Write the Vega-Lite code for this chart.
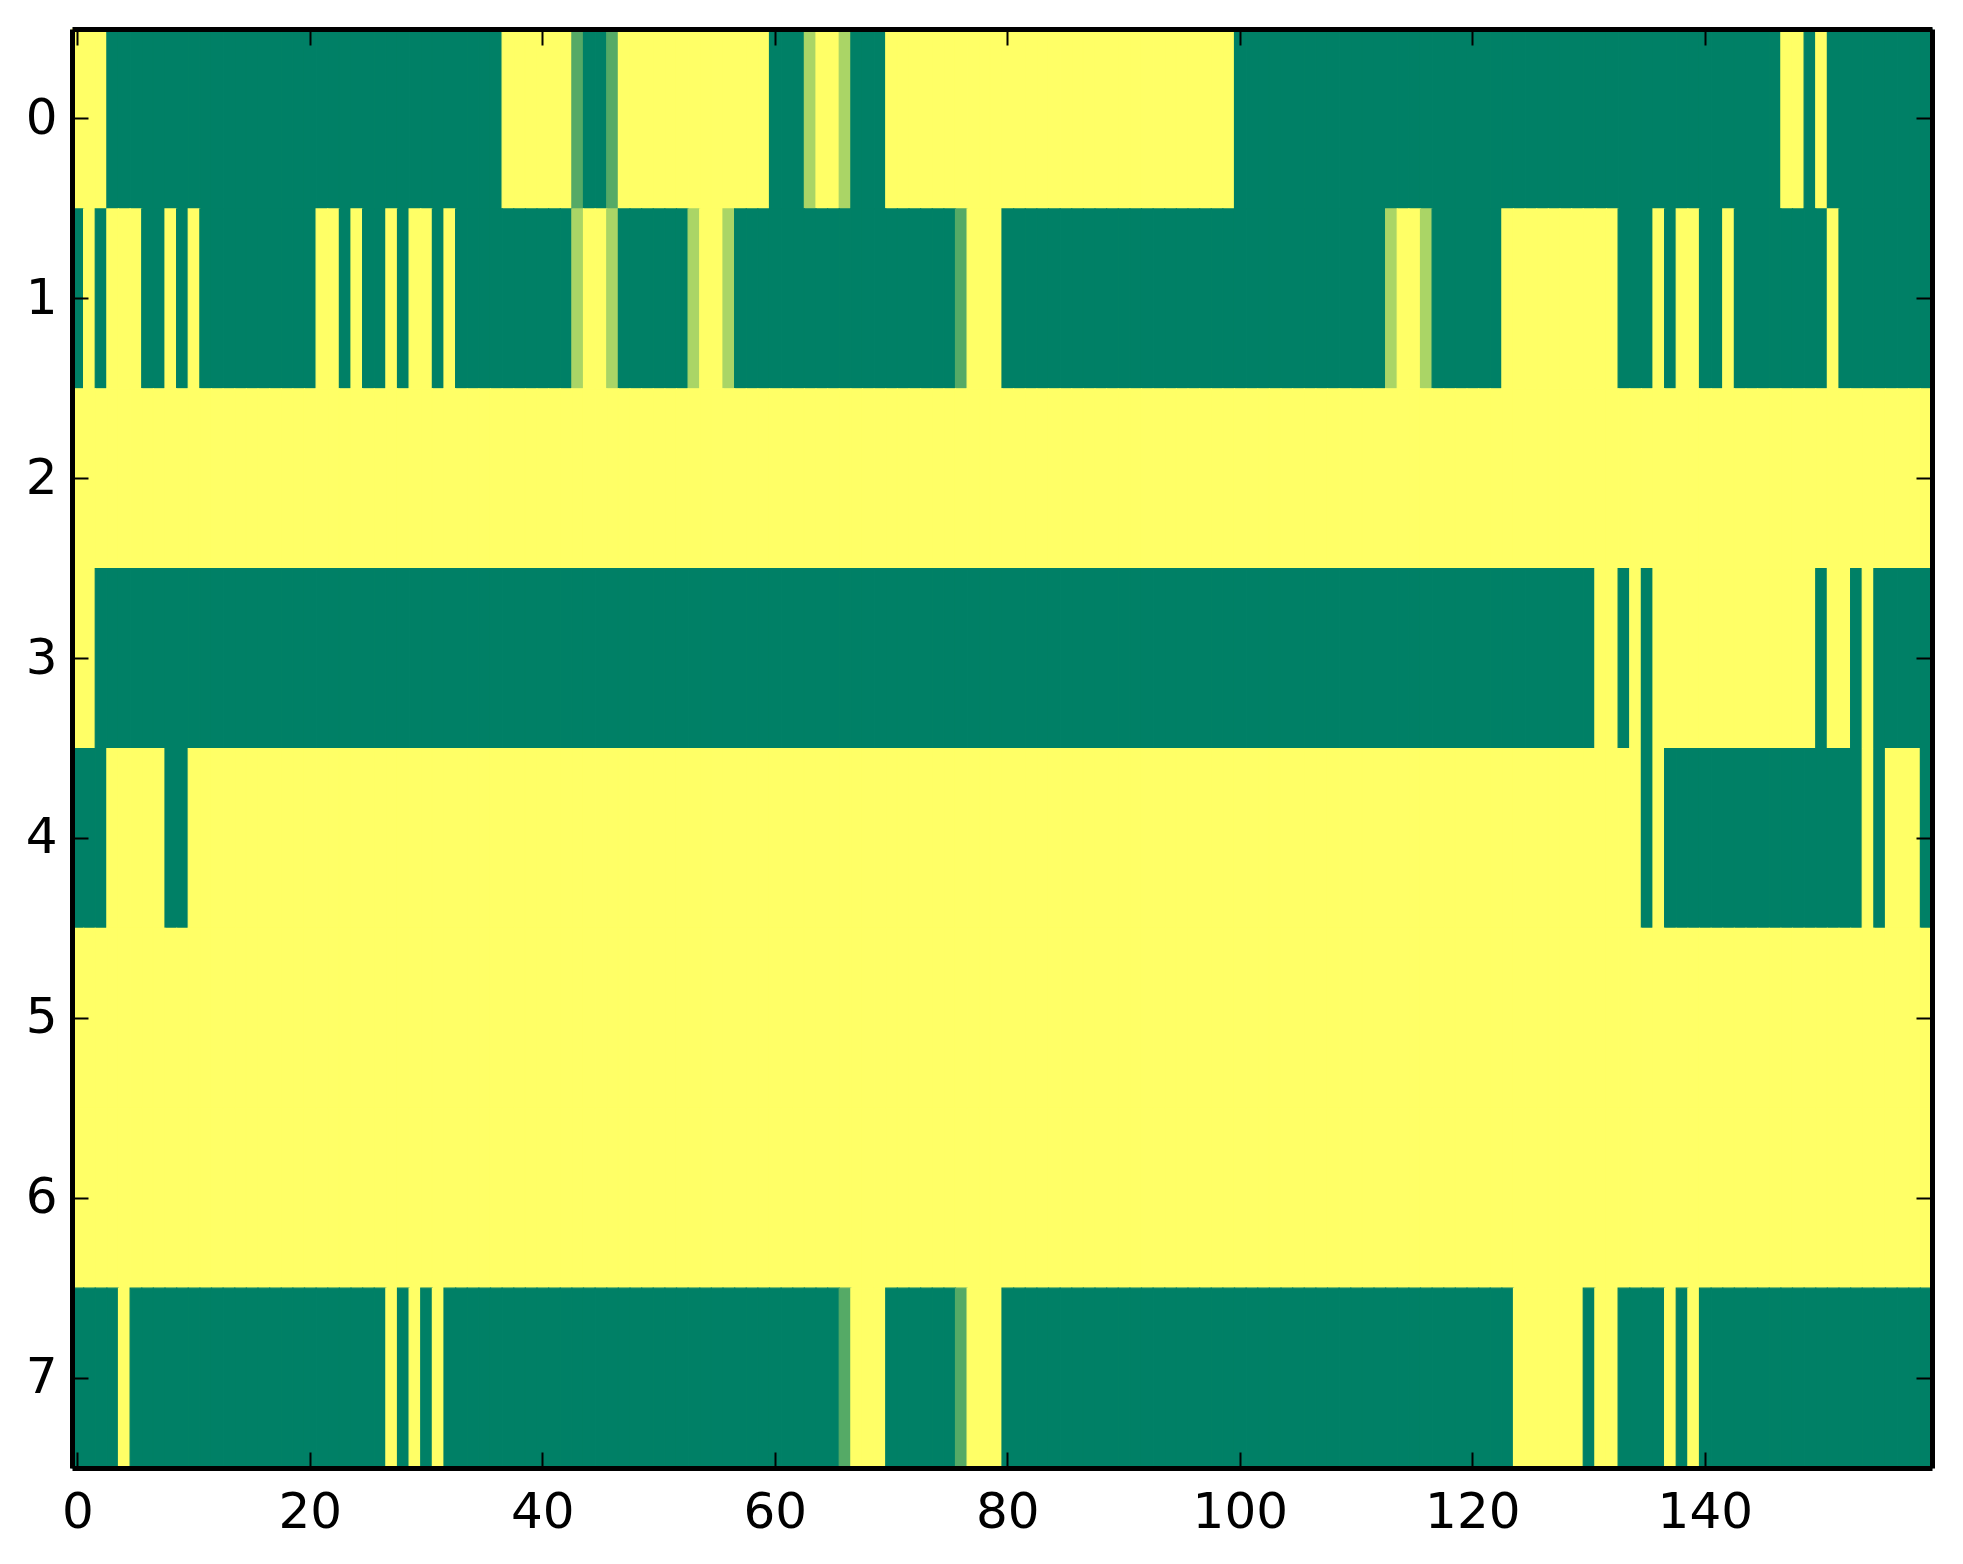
{
  "$schema": "https://vega.github.io/schema/vega-lite/v6.json",
  "width": 1860,
  "height": 1439,
  "autosize": {"type": "none"},
  "padding": {"left": 72, "top": 29, "right": 31, "bottom": 96},
  "background": "white",
  "data": {
    "values": [
      {"r":0,"c":0,"v":1},{"r":0,"c":1,"v":1},{"r":0,"c":2,"v":1},{"r":0,"c":3,"v":0},{"r":0,"c":4,"v":0},{"r":0,"c":5,"v":0},{"r":0,"c":6,"v":0},{"r":0,"c":7,"v":0},{"r":0,"c":8,"v":0},{"r":0,"c":9,"v":0},
      {"r":0,"c":10,"v":0},{"r":0,"c":11,"v":0},{"r":0,"c":12,"v":0},{"r":0,"c":13,"v":0},{"r":0,"c":14,"v":0},{"r":0,"c":15,"v":0},{"r":0,"c":16,"v":0},{"r":0,"c":17,"v":0},{"r":0,"c":18,"v":0},{"r":0,"c":19,"v":0},
      {"r":0,"c":20,"v":0},{"r":0,"c":21,"v":0},{"r":0,"c":22,"v":0},{"r":0,"c":23,"v":0},{"r":0,"c":24,"v":0},{"r":0,"c":25,"v":0},{"r":0,"c":26,"v":0},{"r":0,"c":27,"v":0},{"r":0,"c":28,"v":0},{"r":0,"c":29,"v":0},
      {"r":0,"c":30,"v":0},{"r":0,"c":31,"v":0},{"r":0,"c":32,"v":0},{"r":0,"c":33,"v":0},{"r":0,"c":34,"v":0},{"r":0,"c":35,"v":0},{"r":0,"c":36,"v":0},{"r":0,"c":37,"v":1},{"r":0,"c":38,"v":1},{"r":0,"c":39,"v":1},
      {"r":0,"c":40,"v":1},{"r":0,"c":41,"v":1},{"r":0,"c":42,"v":1},{"r":0,"c":43,"v":0.333},{"r":0,"c":44,"v":0},{"r":0,"c":45,"v":0},{"r":0,"c":46,"v":0.333},{"r":0,"c":47,"v":1},{"r":0,"c":48,"v":1},{"r":0,"c":49,"v":1},
      {"r":0,"c":50,"v":1},{"r":0,"c":51,"v":1},{"r":0,"c":52,"v":1},{"r":0,"c":53,"v":1},{"r":0,"c":54,"v":1},{"r":0,"c":55,"v":1},{"r":0,"c":56,"v":1},{"r":0,"c":57,"v":1},{"r":0,"c":58,"v":1},{"r":0,"c":59,"v":1},
      {"r":0,"c":60,"v":0},{"r":0,"c":61,"v":0},{"r":0,"c":62,"v":0},{"r":0,"c":63,"v":0.667},{"r":0,"c":64,"v":1},{"r":0,"c":65,"v":1},{"r":0,"c":66,"v":0.667},{"r":0,"c":67,"v":0},{"r":0,"c":68,"v":0},{"r":0,"c":69,"v":0},
      {"r":0,"c":70,"v":1},{"r":0,"c":71,"v":1},{"r":0,"c":72,"v":1},{"r":0,"c":73,"v":1},{"r":0,"c":74,"v":1},{"r":0,"c":75,"v":1},{"r":0,"c":76,"v":1},{"r":0,"c":77,"v":1},{"r":0,"c":78,"v":1},{"r":0,"c":79,"v":1},
      {"r":0,"c":80,"v":1},{"r":0,"c":81,"v":1},{"r":0,"c":82,"v":1},{"r":0,"c":83,"v":1},{"r":0,"c":84,"v":1},{"r":0,"c":85,"v":1},{"r":0,"c":86,"v":1},{"r":0,"c":87,"v":1},{"r":0,"c":88,"v":1},{"r":0,"c":89,"v":1},
      {"r":0,"c":90,"v":1},{"r":0,"c":91,"v":1},{"r":0,"c":92,"v":1},{"r":0,"c":93,"v":1},{"r":0,"c":94,"v":1},{"r":0,"c":95,"v":1},{"r":0,"c":96,"v":1},{"r":0,"c":97,"v":1},{"r":0,"c":98,"v":1},{"r":0,"c":99,"v":1},
      {"r":0,"c":100,"v":0},{"r":0,"c":101,"v":0},{"r":0,"c":102,"v":0},{"r":0,"c":103,"v":0},{"r":0,"c":104,"v":0},{"r":0,"c":105,"v":0},{"r":0,"c":106,"v":0},{"r":0,"c":107,"v":0},{"r":0,"c":108,"v":0},{"r":0,"c":109,"v":0},
      {"r":0,"c":110,"v":0},{"r":0,"c":111,"v":0},{"r":0,"c":112,"v":0},{"r":0,"c":113,"v":0},{"r":0,"c":114,"v":0},{"r":0,"c":115,"v":0},{"r":0,"c":116,"v":0},{"r":0,"c":117,"v":0},{"r":0,"c":118,"v":0},{"r":0,"c":119,"v":0},
      {"r":0,"c":120,"v":0},{"r":0,"c":121,"v":0},{"r":0,"c":122,"v":0},{"r":0,"c":123,"v":0},{"r":0,"c":124,"v":0},{"r":0,"c":125,"v":0},{"r":0,"c":126,"v":0},{"r":0,"c":127,"v":0},{"r":0,"c":128,"v":0},{"r":0,"c":129,"v":0},
      {"r":0,"c":130,"v":0},{"r":0,"c":131,"v":0},{"r":0,"c":132,"v":0},{"r":0,"c":133,"v":0},{"r":0,"c":134,"v":0},{"r":0,"c":135,"v":0},{"r":0,"c":136,"v":0},{"r":0,"c":137,"v":0},{"r":0,"c":138,"v":0},{"r":0,"c":139,"v":0},
      {"r":0,"c":140,"v":0},{"r":0,"c":141,"v":0},{"r":0,"c":142,"v":0},{"r":0,"c":143,"v":0},{"r":0,"c":144,"v":0},{"r":0,"c":145,"v":0},{"r":0,"c":146,"v":0},{"r":0,"c":147,"v":1},{"r":0,"c":148,"v":1},{"r":0,"c":149,"v":0},
      {"r":0,"c":150,"v":1},{"r":0,"c":151,"v":0},{"r":0,"c":152,"v":0},{"r":0,"c":153,"v":0},{"r":0,"c":154,"v":0},{"r":0,"c":155,"v":0},{"r":0,"c":156,"v":0},{"r":0,"c":157,"v":0},{"r":0,"c":158,"v":0},{"r":0,"c":159,"v":0},

      {"r":1,"c":0,"v":0},{"r":1,"c":1,"v":1},{"r":1,"c":2,"v":0},{"r":1,"c":3,"v":1},{"r":1,"c":4,"v":1},{"r":1,"c":5,"v":1},{"r":1,"c":6,"v":0},{"r":1,"c":7,"v":0},{"r":1,"c":8,"v":1},{"r":1,"c":9,"v":0},
      {"r":1,"c":10,"v":1},{"r":1,"c":11,"v":0},{"r":1,"c":12,"v":0},{"r":1,"c":13,"v":0},{"r":1,"c":14,"v":0},{"r":1,"c":15,"v":0},{"r":1,"c":16,"v":0},{"r":1,"c":17,"v":0},{"r":1,"c":18,"v":0},{"r":1,"c":19,"v":0},
      {"r":1,"c":20,"v":0},{"r":1,"c":21,"v":1},{"r":1,"c":22,"v":1},{"r":1,"c":23,"v":0},{"r":1,"c":24,"v":1},{"r":1,"c":25,"v":0},{"r":1,"c":26,"v":0},{"r":1,"c":27,"v":1},{"r":1,"c":28,"v":0},{"r":1,"c":29,"v":1},
      {"r":1,"c":30,"v":1},{"r":1,"c":31,"v":0},{"r":1,"c":32,"v":1},{"r":1,"c":33,"v":0},{"r":1,"c":34,"v":0},{"r":1,"c":35,"v":0},{"r":1,"c":36,"v":0},{"r":1,"c":37,"v":0},{"r":1,"c":38,"v":0},{"r":1,"c":39,"v":0},
      {"r":1,"c":40,"v":0},{"r":1,"c":41,"v":0},{"r":1,"c":42,"v":0},{"r":1,"c":43,"v":0.667},{"r":1,"c":44,"v":1},{"r":1,"c":45,"v":1},{"r":1,"c":46,"v":0.667},{"r":1,"c":47,"v":0},{"r":1,"c":48,"v":0},{"r":1,"c":49,"v":0},
      {"r":1,"c":50,"v":0},{"r":1,"c":51,"v":0},{"r":1,"c":52,"v":0},{"r":1,"c":53,"v":0.667},{"r":1,"c":54,"v":1},{"r":1,"c":55,"v":1},{"r":1,"c":56,"v":0.667},{"r":1,"c":57,"v":0},{"r":1,"c":58,"v":0},{"r":1,"c":59,"v":0},
      {"r":1,"c":60,"v":0},{"r":1,"c":61,"v":0},{"r":1,"c":62,"v":0},{"r":1,"c":63,"v":0},{"r":1,"c":64,"v":0},{"r":1,"c":65,"v":0},{"r":1,"c":66,"v":0},{"r":1,"c":67,"v":0},{"r":1,"c":68,"v":0},{"r":1,"c":69,"v":0},
      {"r":1,"c":70,"v":0},{"r":1,"c":71,"v":0},{"r":1,"c":72,"v":0},{"r":1,"c":73,"v":0},{"r":1,"c":74,"v":0},{"r":1,"c":75,"v":0},{"r":1,"c":76,"v":0.333},{"r":1,"c":77,"v":1},{"r":1,"c":78,"v":1},{"r":1,"c":79,"v":1},
      {"r":1,"c":80,"v":0},{"r":1,"c":81,"v":0},{"r":1,"c":82,"v":0},{"r":1,"c":83,"v":0},{"r":1,"c":84,"v":0},{"r":1,"c":85,"v":0},{"r":1,"c":86,"v":0},{"r":1,"c":87,"v":0},{"r":1,"c":88,"v":0},{"r":1,"c":89,"v":0},
      {"r":1,"c":90,"v":0},{"r":1,"c":91,"v":0},{"r":1,"c":92,"v":0},{"r":1,"c":93,"v":0},{"r":1,"c":94,"v":0},{"r":1,"c":95,"v":0},{"r":1,"c":96,"v":0},{"r":1,"c":97,"v":0},{"r":1,"c":98,"v":0},{"r":1,"c":99,"v":0},
      {"r":1,"c":100,"v":0},{"r":1,"c":101,"v":0},{"r":1,"c":102,"v":0},{"r":1,"c":103,"v":0},{"r":1,"c":104,"v":0},{"r":1,"c":105,"v":0},{"r":1,"c":106,"v":0},{"r":1,"c":107,"v":0},{"r":1,"c":108,"v":0},{"r":1,"c":109,"v":0},
      {"r":1,"c":110,"v":0},{"r":1,"c":111,"v":0},{"r":1,"c":112,"v":0},{"r":1,"c":113,"v":0.667},{"r":1,"c":114,"v":1},{"r":1,"c":115,"v":1},{"r":1,"c":116,"v":0.667},{"r":1,"c":117,"v":0},{"r":1,"c":118,"v":0},{"r":1,"c":119,"v":0},
      {"r":1,"c":120,"v":0},{"r":1,"c":121,"v":0},{"r":1,"c":122,"v":0},{"r":1,"c":123,"v":1},{"r":1,"c":124,"v":1},{"r":1,"c":125,"v":1},{"r":1,"c":126,"v":1},{"r":1,"c":127,"v":1},{"r":1,"c":128,"v":1},{"r":1,"c":129,"v":1},
      {"r":1,"c":130,"v":1},{"r":1,"c":131,"v":1},{"r":1,"c":132,"v":1},{"r":1,"c":133,"v":0},{"r":1,"c":134,"v":0},{"r":1,"c":135,"v":0},{"r":1,"c":136,"v":1},{"r":1,"c":137,"v":0},{"r":1,"c":138,"v":1},{"r":1,"c":139,"v":1},
      {"r":1,"c":140,"v":0},{"r":1,"c":141,"v":0},{"r":1,"c":142,"v":1},{"r":1,"c":143,"v":0},{"r":1,"c":144,"v":0},{"r":1,"c":145,"v":0},{"r":1,"c":146,"v":0},{"r":1,"c":147,"v":0},{"r":1,"c":148,"v":0},{"r":1,"c":149,"v":0},
      {"r":1,"c":150,"v":0},{"r":1,"c":151,"v":1},{"r":1,"c":152,"v":0},{"r":1,"c":153,"v":0},{"r":1,"c":154,"v":0},{"r":1,"c":155,"v":0},{"r":1,"c":156,"v":0},{"r":1,"c":157,"v":0},{"r":1,"c":158,"v":0},{"r":1,"c":159,"v":0},

      {"r":2,"c":0,"v":1},{"r":2,"c":1,"v":1},{"r":2,"c":2,"v":1},{"r":2,"c":3,"v":1},{"r":2,"c":4,"v":1},{"r":2,"c":5,"v":1},{"r":2,"c":6,"v":1},{"r":2,"c":7,"v":1},{"r":2,"c":8,"v":1},{"r":2,"c":9,"v":1},
      {"r":2,"c":10,"v":1},{"r":2,"c":11,"v":1},{"r":2,"c":12,"v":1},{"r":2,"c":13,"v":1},{"r":2,"c":14,"v":1},{"r":2,"c":15,"v":1},{"r":2,"c":16,"v":1},{"r":2,"c":17,"v":1},{"r":2,"c":18,"v":1},{"r":2,"c":19,"v":1},
      {"r":2,"c":20,"v":1},{"r":2,"c":21,"v":1},{"r":2,"c":22,"v":1},{"r":2,"c":23,"v":1},{"r":2,"c":24,"v":1},{"r":2,"c":25,"v":1},{"r":2,"c":26,"v":1},{"r":2,"c":27,"v":1},{"r":2,"c":28,"v":1},{"r":2,"c":29,"v":1},
      {"r":2,"c":30,"v":1},{"r":2,"c":31,"v":1},{"r":2,"c":32,"v":1},{"r":2,"c":33,"v":1},{"r":2,"c":34,"v":1},{"r":2,"c":35,"v":1},{"r":2,"c":36,"v":1},{"r":2,"c":37,"v":1},{"r":2,"c":38,"v":1},{"r":2,"c":39,"v":1},
      {"r":2,"c":40,"v":1},{"r":2,"c":41,"v":1},{"r":2,"c":42,"v":1},{"r":2,"c":43,"v":1},{"r":2,"c":44,"v":1},{"r":2,"c":45,"v":1},{"r":2,"c":46,"v":1},{"r":2,"c":47,"v":1},{"r":2,"c":48,"v":1},{"r":2,"c":49,"v":1},
      {"r":2,"c":50,"v":1},{"r":2,"c":51,"v":1},{"r":2,"c":52,"v":1},{"r":2,"c":53,"v":1},{"r":2,"c":54,"v":1},{"r":2,"c":55,"v":1},{"r":2,"c":56,"v":1},{"r":2,"c":57,"v":1},{"r":2,"c":58,"v":1},{"r":2,"c":59,"v":1},
      {"r":2,"c":60,"v":1},{"r":2,"c":61,"v":1},{"r":2,"c":62,"v":1},{"r":2,"c":63,"v":1},{"r":2,"c":64,"v":1},{"r":2,"c":65,"v":1},{"r":2,"c":66,"v":1},{"r":2,"c":67,"v":1},{"r":2,"c":68,"v":1},{"r":2,"c":69,"v":1},
      {"r":2,"c":70,"v":1},{"r":2,"c":71,"v":1},{"r":2,"c":72,"v":1},{"r":2,"c":73,"v":1},{"r":2,"c":74,"v":1},{"r":2,"c":75,"v":1},{"r":2,"c":76,"v":1},{"r":2,"c":77,"v":1},{"r":2,"c":78,"v":1},{"r":2,"c":79,"v":1},
      {"r":2,"c":80,"v":1},{"r":2,"c":81,"v":1},{"r":2,"c":82,"v":1},{"r":2,"c":83,"v":1},{"r":2,"c":84,"v":1},{"r":2,"c":85,"v":1},{"r":2,"c":86,"v":1},{"r":2,"c":87,"v":1},{"r":2,"c":88,"v":1},{"r":2,"c":89,"v":1},
      {"r":2,"c":90,"v":1},{"r":2,"c":91,"v":1},{"r":2,"c":92,"v":1},{"r":2,"c":93,"v":1},{"r":2,"c":94,"v":1},{"r":2,"c":95,"v":1},{"r":2,"c":96,"v":1},{"r":2,"c":97,"v":1},{"r":2,"c":98,"v":1},{"r":2,"c":99,"v":1},
      {"r":2,"c":100,"v":1},{"r":2,"c":101,"v":1},{"r":2,"c":102,"v":1},{"r":2,"c":103,"v":1},{"r":2,"c":104,"v":1},{"r":2,"c":105,"v":1},{"r":2,"c":106,"v":1},{"r":2,"c":107,"v":1},{"r":2,"c":108,"v":1},{"r":2,"c":109,"v":1},
      {"r":2,"c":110,"v":1},{"r":2,"c":111,"v":1},{"r":2,"c":112,"v":1},{"r":2,"c":113,"v":1},{"r":2,"c":114,"v":1},{"r":2,"c":115,"v":1},{"r":2,"c":116,"v":1},{"r":2,"c":117,"v":1},{"r":2,"c":118,"v":1},{"r":2,"c":119,"v":1},
      {"r":2,"c":120,"v":1},{"r":2,"c":121,"v":1},{"r":2,"c":122,"v":1},{"r":2,"c":123,"v":1},{"r":2,"c":124,"v":1},{"r":2,"c":125,"v":1},{"r":2,"c":126,"v":1},{"r":2,"c":127,"v":1},{"r":2,"c":128,"v":1},{"r":2,"c":129,"v":1},
      {"r":2,"c":130,"v":1},{"r":2,"c":131,"v":1},{"r":2,"c":132,"v":1},{"r":2,"c":133,"v":1},{"r":2,"c":134,"v":1},{"r":2,"c":135,"v":1},{"r":2,"c":136,"v":1},{"r":2,"c":137,"v":1},{"r":2,"c":138,"v":1},{"r":2,"c":139,"v":1},
      {"r":2,"c":140,"v":1},{"r":2,"c":141,"v":1},{"r":2,"c":142,"v":1},{"r":2,"c":143,"v":1},{"r":2,"c":144,"v":1},{"r":2,"c":145,"v":1},{"r":2,"c":146,"v":1},{"r":2,"c":147,"v":1},{"r":2,"c":148,"v":1},{"r":2,"c":149,"v":1},
      {"r":2,"c":150,"v":1},{"r":2,"c":151,"v":1},{"r":2,"c":152,"v":1},{"r":2,"c":153,"v":1},{"r":2,"c":154,"v":1},{"r":2,"c":155,"v":1},{"r":2,"c":156,"v":1},{"r":2,"c":157,"v":1},{"r":2,"c":158,"v":1},{"r":2,"c":159,"v":1},

      {"r":3,"c":0,"v":1},{"r":3,"c":1,"v":1},{"r":3,"c":2,"v":0},{"r":3,"c":3,"v":0},{"r":3,"c":4,"v":0},{"r":3,"c":5,"v":0},{"r":3,"c":6,"v":0},{"r":3,"c":7,"v":0},{"r":3,"c":8,"v":0},{"r":3,"c":9,"v":0},
      {"r":3,"c":10,"v":0},{"r":3,"c":11,"v":0},{"r":3,"c":12,"v":0},{"r":3,"c":13,"v":0},{"r":3,"c":14,"v":0},{"r":3,"c":15,"v":0},{"r":3,"c":16,"v":0},{"r":3,"c":17,"v":0},{"r":3,"c":18,"v":0},{"r":3,"c":19,"v":0},
      {"r":3,"c":20,"v":0},{"r":3,"c":21,"v":0},{"r":3,"c":22,"v":0},{"r":3,"c":23,"v":0},{"r":3,"c":24,"v":0},{"r":3,"c":25,"v":0},{"r":3,"c":26,"v":0},{"r":3,"c":27,"v":0},{"r":3,"c":28,"v":0},{"r":3,"c":29,"v":0},
      {"r":3,"c":30,"v":0},{"r":3,"c":31,"v":0},{"r":3,"c":32,"v":0},{"r":3,"c":33,"v":0},{"r":3,"c":34,"v":0},{"r":3,"c":35,"v":0},{"r":3,"c":36,"v":0},{"r":3,"c":37,"v":0},{"r":3,"c":38,"v":0},{"r":3,"c":39,"v":0},
      {"r":3,"c":40,"v":0},{"r":3,"c":41,"v":0},{"r":3,"c":42,"v":0},{"r":3,"c":43,"v":0},{"r":3,"c":44,"v":0},{"r":3,"c":45,"v":0},{"r":3,"c":46,"v":0},{"r":3,"c":47,"v":0},{"r":3,"c":48,"v":0},{"r":3,"c":49,"v":0},
      {"r":3,"c":50,"v":0},{"r":3,"c":51,"v":0},{"r":3,"c":52,"v":0},{"r":3,"c":53,"v":0},{"r":3,"c":54,"v":0},{"r":3,"c":55,"v":0},{"r":3,"c":56,"v":0},{"r":3,"c":57,"v":0},{"r":3,"c":58,"v":0},{"r":3,"c":59,"v":0},
      {"r":3,"c":60,"v":0},{"r":3,"c":61,"v":0},{"r":3,"c":62,"v":0},{"r":3,"c":63,"v":0},{"r":3,"c":64,"v":0},{"r":3,"c":65,"v":0},{"r":3,"c":66,"v":0},{"r":3,"c":67,"v":0},{"r":3,"c":68,"v":0},{"r":3,"c":69,"v":0},
      {"r":3,"c":70,"v":0},{"r":3,"c":71,"v":0},{"r":3,"c":72,"v":0},{"r":3,"c":73,"v":0},{"r":3,"c":74,"v":0},{"r":3,"c":75,"v":0},{"r":3,"c":76,"v":0},{"r":3,"c":77,"v":0},{"r":3,"c":78,"v":0},{"r":3,"c":79,"v":0},
      {"r":3,"c":80,"v":0},{"r":3,"c":81,"v":0},{"r":3,"c":82,"v":0},{"r":3,"c":83,"v":0},{"r":3,"c":84,"v":0},{"r":3,"c":85,"v":0},{"r":3,"c":86,"v":0},{"r":3,"c":87,"v":0},{"r":3,"c":88,"v":0},{"r":3,"c":89,"v":0},
      {"r":3,"c":90,"v":0},{"r":3,"c":91,"v":0},{"r":3,"c":92,"v":0},{"r":3,"c":93,"v":0},{"r":3,"c":94,"v":0},{"r":3,"c":95,"v":0},{"r":3,"c":96,"v":0},{"r":3,"c":97,"v":0},{"r":3,"c":98,"v":0},{"r":3,"c":99,"v":0},
      {"r":3,"c":100,"v":0},{"r":3,"c":101,"v":0},{"r":3,"c":102,"v":0},{"r":3,"c":103,"v":0},{"r":3,"c":104,"v":0},{"r":3,"c":105,"v":0},{"r":3,"c":106,"v":0},{"r":3,"c":107,"v":0},{"r":3,"c":108,"v":0},{"r":3,"c":109,"v":0},
      {"r":3,"c":110,"v":0},{"r":3,"c":111,"v":0},{"r":3,"c":112,"v":0},{"r":3,"c":113,"v":0},{"r":3,"c":114,"v":0},{"r":3,"c":115,"v":0},{"r":3,"c":116,"v":0},{"r":3,"c":117,"v":0},{"r":3,"c":118,"v":0},{"r":3,"c":119,"v":0},
      {"r":3,"c":120,"v":0},{"r":3,"c":121,"v":0},{"r":3,"c":122,"v":0},{"r":3,"c":123,"v":0},{"r":3,"c":124,"v":0},{"r":3,"c":125,"v":0},{"r":3,"c":126,"v":0},{"r":3,"c":127,"v":0},{"r":3,"c":128,"v":0},{"r":3,"c":129,"v":0},
      {"r":3,"c":130,"v":0},{"r":3,"c":131,"v":1},{"r":3,"c":132,"v":1},{"r":3,"c":133,"v":0},{"r":3,"c":134,"v":1},{"r":3,"c":135,"v":0},{"r":3,"c":136,"v":1},{"r":3,"c":137,"v":1},{"r":3,"c":138,"v":1},{"r":3,"c":139,"v":1},
      {"r":3,"c":140,"v":1},{"r":3,"c":141,"v":1},{"r":3,"c":142,"v":1},{"r":3,"c":143,"v":1},{"r":3,"c":144,"v":1},{"r":3,"c":145,"v":1},{"r":3,"c":146,"v":1},{"r":3,"c":147,"v":1},{"r":3,"c":148,"v":1},{"r":3,"c":149,"v":1},
      {"r":3,"c":150,"v":0},{"r":3,"c":151,"v":1},{"r":3,"c":152,"v":1},{"r":3,"c":153,"v":0},{"r":3,"c":154,"v":1},{"r":3,"c":155,"v":0},{"r":3,"c":156,"v":0},{"r":3,"c":157,"v":0},{"r":3,"c":158,"v":0},{"r":3,"c":159,"v":0},

      {"r":4,"c":0,"v":0},{"r":4,"c":1,"v":0},{"r":4,"c":2,"v":0},{"r":4,"c":3,"v":1},{"r":4,"c":4,"v":1},{"r":4,"c":5,"v":1},{"r":4,"c":6,"v":1},{"r":4,"c":7,"v":1},{"r":4,"c":8,"v":0},{"r":4,"c":9,"v":0},
      {"r":4,"c":10,"v":1},{"r":4,"c":11,"v":1},{"r":4,"c":12,"v":1},{"r":4,"c":13,"v":1},{"r":4,"c":14,"v":1},{"r":4,"c":15,"v":1},{"r":4,"c":16,"v":1},{"r":4,"c":17,"v":1},{"r":4,"c":18,"v":1},{"r":4,"c":19,"v":1},
      {"r":4,"c":20,"v":1},{"r":4,"c":21,"v":1},{"r":4,"c":22,"v":1},{"r":4,"c":23,"v":1},{"r":4,"c":24,"v":1},{"r":4,"c":25,"v":1},{"r":4,"c":26,"v":1},{"r":4,"c":27,"v":1},{"r":4,"c":28,"v":1},{"r":4,"c":29,"v":1},
      {"r":4,"c":30,"v":1},{"r":4,"c":31,"v":1},{"r":4,"c":32,"v":1},{"r":4,"c":33,"v":1},{"r":4,"c":34,"v":1},{"r":4,"c":35,"v":1},{"r":4,"c":36,"v":1},{"r":4,"c":37,"v":1},{"r":4,"c":38,"v":1},{"r":4,"c":39,"v":1},
      {"r":4,"c":40,"v":1},{"r":4,"c":41,"v":1},{"r":4,"c":42,"v":1},{"r":4,"c":43,"v":1},{"r":4,"c":44,"v":1},{"r":4,"c":45,"v":1},{"r":4,"c":46,"v":1},{"r":4,"c":47,"v":1},{"r":4,"c":48,"v":1},{"r":4,"c":49,"v":1},
      {"r":4,"c":50,"v":1},{"r":4,"c":51,"v":1},{"r":4,"c":52,"v":1},{"r":4,"c":53,"v":1},{"r":4,"c":54,"v":1},{"r":4,"c":55,"v":1},{"r":4,"c":56,"v":1},{"r":4,"c":57,"v":1},{"r":4,"c":58,"v":1},{"r":4,"c":59,"v":1},
      {"r":4,"c":60,"v":1},{"r":4,"c":61,"v":1},{"r":4,"c":62,"v":1},{"r":4,"c":63,"v":1},{"r":4,"c":64,"v":1},{"r":4,"c":65,"v":1},{"r":4,"c":66,"v":1},{"r":4,"c":67,"v":1},{"r":4,"c":68,"v":1},{"r":4,"c":69,"v":1},
      {"r":4,"c":70,"v":1},{"r":4,"c":71,"v":1},{"r":4,"c":72,"v":1},{"r":4,"c":73,"v":1},{"r":4,"c":74,"v":1},{"r":4,"c":75,"v":1},{"r":4,"c":76,"v":1},{"r":4,"c":77,"v":1},{"r":4,"c":78,"v":1},{"r":4,"c":79,"v":1},
      {"r":4,"c":80,"v":1},{"r":4,"c":81,"v":1},{"r":4,"c":82,"v":1},{"r":4,"c":83,"v":1},{"r":4,"c":84,"v":1},{"r":4,"c":85,"v":1},{"r":4,"c":86,"v":1},{"r":4,"c":87,"v":1},{"r":4,"c":88,"v":1},{"r":4,"c":89,"v":1},
      {"r":4,"c":90,"v":1},{"r":4,"c":91,"v":1},{"r":4,"c":92,"v":1},{"r":4,"c":93,"v":1},{"r":4,"c":94,"v":1},{"r":4,"c":95,"v":1},{"r":4,"c":96,"v":1},{"r":4,"c":97,"v":1},{"r":4,"c":98,"v":1},{"r":4,"c":99,"v":1},
      {"r":4,"c":100,"v":1},{"r":4,"c":101,"v":1},{"r":4,"c":102,"v":1},{"r":4,"c":103,"v":1},{"r":4,"c":104,"v":1},{"r":4,"c":105,"v":1},{"r":4,"c":106,"v":1},{"r":4,"c":107,"v":1},{"r":4,"c":108,"v":1},{"r":4,"c":109,"v":1},
      {"r":4,"c":110,"v":1},{"r":4,"c":111,"v":1},{"r":4,"c":112,"v":1},{"r":4,"c":113,"v":1},{"r":4,"c":114,"v":1},{"r":4,"c":115,"v":1},{"r":4,"c":116,"v":1},{"r":4,"c":117,"v":1},{"r":4,"c":118,"v":1},{"r":4,"c":119,"v":1},
      {"r":4,"c":120,"v":1},{"r":4,"c":121,"v":1},{"r":4,"c":122,"v":1},{"r":4,"c":123,"v":1},{"r":4,"c":124,"v":1},{"r":4,"c":125,"v":1},{"r":4,"c":126,"v":1},{"r":4,"c":127,"v":1},{"r":4,"c":128,"v":1},{"r":4,"c":129,"v":1},
      {"r":4,"c":130,"v":1},{"r":4,"c":131,"v":1},{"r":4,"c":132,"v":1},{"r":4,"c":133,"v":1},{"r":4,"c":134,"v":1},{"r":4,"c":135,"v":0},{"r":4,"c":136,"v":1},{"r":4,"c":137,"v":0},{"r":4,"c":138,"v":0},{"r":4,"c":139,"v":0},
      {"r":4,"c":140,"v":0},{"r":4,"c":141,"v":0},{"r":4,"c":142,"v":0},{"r":4,"c":143,"v":0},{"r":4,"c":144,"v":0},{"r":4,"c":145,"v":0},{"r":4,"c":146,"v":0},{"r":4,"c":147,"v":0},{"r":4,"c":148,"v":0},{"r":4,"c":149,"v":0},
      {"r":4,"c":150,"v":0},{"r":4,"c":151,"v":0},{"r":4,"c":152,"v":0},{"r":4,"c":153,"v":0},{"r":4,"c":154,"v":1},{"r":4,"c":155,"v":0},{"r":4,"c":156,"v":1},{"r":4,"c":157,"v":1},{"r":4,"c":158,"v":1},{"r":4,"c":159,"v":0},

      {"r":5,"c":0,"v":1},{"r":5,"c":1,"v":1},{"r":5,"c":2,"v":1},{"r":5,"c":3,"v":1},{"r":5,"c":4,"v":1},{"r":5,"c":5,"v":1},{"r":5,"c":6,"v":1},{"r":5,"c":7,"v":1},{"r":5,"c":8,"v":1},{"r":5,"c":9,"v":1},
      {"r":5,"c":10,"v":1},{"r":5,"c":11,"v":1},{"r":5,"c":12,"v":1},{"r":5,"c":13,"v":1},{"r":5,"c":14,"v":1},{"r":5,"c":15,"v":1},{"r":5,"c":16,"v":1},{"r":5,"c":17,"v":1},{"r":5,"c":18,"v":1},{"r":5,"c":19,"v":1},
      {"r":5,"c":20,"v":1},{"r":5,"c":21,"v":1},{"r":5,"c":22,"v":1},{"r":5,"c":23,"v":1},{"r":5,"c":24,"v":1},{"r":5,"c":25,"v":1},{"r":5,"c":26,"v":1},{"r":5,"c":27,"v":1},{"r":5,"c":28,"v":1},{"r":5,"c":29,"v":1},
      {"r":5,"c":30,"v":1},{"r":5,"c":31,"v":1},{"r":5,"c":32,"v":1},{"r":5,"c":33,"v":1},{"r":5,"c":34,"v":1},{"r":5,"c":35,"v":1},{"r":5,"c":36,"v":1},{"r":5,"c":37,"v":1},{"r":5,"c":38,"v":1},{"r":5,"c":39,"v":1},
      {"r":5,"c":40,"v":1},{"r":5,"c":41,"v":1},{"r":5,"c":42,"v":1},{"r":5,"c":43,"v":1},{"r":5,"c":44,"v":1},{"r":5,"c":45,"v":1},{"r":5,"c":46,"v":1},{"r":5,"c":47,"v":1},{"r":5,"c":48,"v":1},{"r":5,"c":49,"v":1},
      {"r":5,"c":50,"v":1},{"r":5,"c":51,"v":1},{"r":5,"c":52,"v":1},{"r":5,"c":53,"v":1},{"r":5,"c":54,"v":1},{"r":5,"c":55,"v":1},{"r":5,"c":56,"v":1},{"r":5,"c":57,"v":1},{"r":5,"c":58,"v":1},{"r":5,"c":59,"v":1},
      {"r":5,"c":60,"v":1},{"r":5,"c":61,"v":1},{"r":5,"c":62,"v":1},{"r":5,"c":63,"v":1},{"r":5,"c":64,"v":1},{"r":5,"c":65,"v":1},{"r":5,"c":66,"v":1},{"r":5,"c":67,"v":1},{"r":5,"c":68,"v":1},{"r":5,"c":69,"v":1},
      {"r":5,"c":70,"v":1},{"r":5,"c":71,"v":1},{"r":5,"c":72,"v":1},{"r":5,"c":73,"v":1},{"r":5,"c":74,"v":1},{"r":5,"c":75,"v":1},{"r":5,"c":76,"v":1},{"r":5,"c":77,"v":1},{"r":5,"c":78,"v":1},{"r":5,"c":79,"v":1},
      {"r":5,"c":80,"v":1},{"r":5,"c":81,"v":1},{"r":5,"c":82,"v":1},{"r":5,"c":83,"v":1},{"r":5,"c":84,"v":1},{"r":5,"c":85,"v":1},{"r":5,"c":86,"v":1},{"r":5,"c":87,"v":1},{"r":5,"c":88,"v":1},{"r":5,"c":89,"v":1},
      {"r":5,"c":90,"v":1},{"r":5,"c":91,"v":1},{"r":5,"c":92,"v":1},{"r":5,"c":93,"v":1},{"r":5,"c":94,"v":1},{"r":5,"c":95,"v":1},{"r":5,"c":96,"v":1},{"r":5,"c":97,"v":1},{"r":5,"c":98,"v":1},{"r":5,"c":99,"v":1},
      {"r":5,"c":100,"v":1},{"r":5,"c":101,"v":1},{"r":5,"c":102,"v":1},{"r":5,"c":103,"v":1},{"r":5,"c":104,"v":1},{"r":5,"c":105,"v":1},{"r":5,"c":106,"v":1},{"r":5,"c":107,"v":1},{"r":5,"c":108,"v":1},{"r":5,"c":109,"v":1},
      {"r":5,"c":110,"v":1},{"r":5,"c":111,"v":1},{"r":5,"c":112,"v":1},{"r":5,"c":113,"v":1},{"r":5,"c":114,"v":1},{"r":5,"c":115,"v":1},{"r":5,"c":116,"v":1},{"r":5,"c":117,"v":1},{"r":5,"c":118,"v":1},{"r":5,"c":119,"v":1},
      {"r":5,"c":120,"v":1},{"r":5,"c":121,"v":1},{"r":5,"c":122,"v":1},{"r":5,"c":123,"v":1},{"r":5,"c":124,"v":1},{"r":5,"c":125,"v":1},{"r":5,"c":126,"v":1},{"r":5,"c":127,"v":1},{"r":5,"c":128,"v":1},{"r":5,"c":129,"v":1},
      {"r":5,"c":130,"v":1},{"r":5,"c":131,"v":1},{"r":5,"c":132,"v":1},{"r":5,"c":133,"v":1},{"r":5,"c":134,"v":1},{"r":5,"c":135,"v":1},{"r":5,"c":136,"v":1},{"r":5,"c":137,"v":1},{"r":5,"c":138,"v":1},{"r":5,"c":139,"v":1},
      {"r":5,"c":140,"v":1},{"r":5,"c":141,"v":1},{"r":5,"c":142,"v":1},{"r":5,"c":143,"v":1},{"r":5,"c":144,"v":1},{"r":5,"c":145,"v":1},{"r":5,"c":146,"v":1},{"r":5,"c":147,"v":1},{"r":5,"c":148,"v":1},{"r":5,"c":149,"v":1},
      {"r":5,"c":150,"v":1},{"r":5,"c":151,"v":1},{"r":5,"c":152,"v":1},{"r":5,"c":153,"v":1},{"r":5,"c":154,"v":1},{"r":5,"c":155,"v":1},{"r":5,"c":156,"v":1},{"r":5,"c":157,"v":1},{"r":5,"c":158,"v":1},{"r":5,"c":159,"v":1},

      {"r":6,"c":0,"v":1},{"r":6,"c":1,"v":1},{"r":6,"c":2,"v":1},{"r":6,"c":3,"v":1},{"r":6,"c":4,"v":1},{"r":6,"c":5,"v":1},{"r":6,"c":6,"v":1},{"r":6,"c":7,"v":1},{"r":6,"c":8,"v":1},{"r":6,"c":9,"v":1},
      {"r":6,"c":10,"v":1},{"r":6,"c":11,"v":1},{"r":6,"c":12,"v":1},{"r":6,"c":13,"v":1},{"r":6,"c":14,"v":1},{"r":6,"c":15,"v":1},{"r":6,"c":16,"v":1},{"r":6,"c":17,"v":1},{"r":6,"c":18,"v":1},{"r":6,"c":19,"v":1},
      {"r":6,"c":20,"v":1},{"r":6,"c":21,"v":1},{"r":6,"c":22,"v":1},{"r":6,"c":23,"v":1},{"r":6,"c":24,"v":1},{"r":6,"c":25,"v":1},{"r":6,"c":26,"v":1},{"r":6,"c":27,"v":1},{"r":6,"c":28,"v":1},{"r":6,"c":29,"v":1},
      {"r":6,"c":30,"v":1},{"r":6,"c":31,"v":1},{"r":6,"c":32,"v":1},{"r":6,"c":33,"v":1},{"r":6,"c":34,"v":1},{"r":6,"c":35,"v":1},{"r":6,"c":36,"v":1},{"r":6,"c":37,"v":1},{"r":6,"c":38,"v":1},{"r":6,"c":39,"v":1},
      {"r":6,"c":40,"v":1},{"r":6,"c":41,"v":1},{"r":6,"c":42,"v":1},{"r":6,"c":43,"v":1},{"r":6,"c":44,"v":1},{"r":6,"c":45,"v":1},{"r":6,"c":46,"v":1},{"r":6,"c":47,"v":1},{"r":6,"c":48,"v":1},{"r":6,"c":49,"v":1},
      {"r":6,"c":50,"v":1},{"r":6,"c":51,"v":1},{"r":6,"c":52,"v":1},{"r":6,"c":53,"v":1},{"r":6,"c":54,"v":1},{"r":6,"c":55,"v":1},{"r":6,"c":56,"v":1},{"r":6,"c":57,"v":1},{"r":6,"c":58,"v":1},{"r":6,"c":59,"v":1},
      {"r":6,"c":60,"v":1},{"r":6,"c":61,"v":1},{"r":6,"c":62,"v":1},{"r":6,"c":63,"v":1},{"r":6,"c":64,"v":1},{"r":6,"c":65,"v":1},{"r":6,"c":66,"v":1},{"r":6,"c":67,"v":1},{"r":6,"c":68,"v":1},{"r":6,"c":69,"v":1},
      {"r":6,"c":70,"v":1},{"r":6,"c":71,"v":1},{"r":6,"c":72,"v":1},{"r":6,"c":73,"v":1},{"r":6,"c":74,"v":1},{"r":6,"c":75,"v":1},{"r":6,"c":76,"v":1},{"r":6,"c":77,"v":1},{"r":6,"c":78,"v":1},{"r":6,"c":79,"v":1},
      {"r":6,"c":80,"v":1},{"r":6,"c":81,"v":1},{"r":6,"c":82,"v":1},{"r":6,"c":83,"v":1},{"r":6,"c":84,"v":1},{"r":6,"c":85,"v":1},{"r":6,"c":86,"v":1},{"r":6,"c":87,"v":1},{"r":6,"c":88,"v":1},{"r":6,"c":89,"v":1},
      {"r":6,"c":90,"v":1},{"r":6,"c":91,"v":1},{"r":6,"c":92,"v":1},{"r":6,"c":93,"v":1},{"r":6,"c":94,"v":1},{"r":6,"c":95,"v":1},{"r":6,"c":96,"v":1},{"r":6,"c":97,"v":1},{"r":6,"c":98,"v":1},{"r":6,"c":99,"v":1},
      {"r":6,"c":100,"v":1},{"r":6,"c":101,"v":1},{"r":6,"c":102,"v":1},{"r":6,"c":103,"v":1},{"r":6,"c":104,"v":1},{"r":6,"c":105,"v":1},{"r":6,"c":106,"v":1},{"r":6,"c":107,"v":1},{"r":6,"c":108,"v":1},{"r":6,"c":109,"v":1},
      {"r":6,"c":110,"v":1},{"r":6,"c":111,"v":1},{"r":6,"c":112,"v":1},{"r":6,"c":113,"v":1},{"r":6,"c":114,"v":1},{"r":6,"c":115,"v":1},{"r":6,"c":116,"v":1},{"r":6,"c":117,"v":1},{"r":6,"c":118,"v":1},{"r":6,"c":119,"v":1},
      {"r":6,"c":120,"v":1},{"r":6,"c":121,"v":1},{"r":6,"c":122,"v":1},{"r":6,"c":123,"v":1},{"r":6,"c":124,"v":1},{"r":6,"c":125,"v":1},{"r":6,"c":126,"v":1},{"r":6,"c":127,"v":1},{"r":6,"c":128,"v":1},{"r":6,"c":129,"v":1},
      {"r":6,"c":130,"v":1},{"r":6,"c":131,"v":1},{"r":6,"c":132,"v":1},{"r":6,"c":133,"v":1},{"r":6,"c":134,"v":1},{"r":6,"c":135,"v":1},{"r":6,"c":136,"v":1},{"r":6,"c":137,"v":1},{"r":6,"c":138,"v":1},{"r":6,"c":139,"v":1},
      {"r":6,"c":140,"v":1},{"r":6,"c":141,"v":1},{"r":6,"c":142,"v":1},{"r":6,"c":143,"v":1},{"r":6,"c":144,"v":1},{"r":6,"c":145,"v":1},{"r":6,"c":146,"v":1},{"r":6,"c":147,"v":1},{"r":6,"c":148,"v":1},{"r":6,"c":149,"v":1},
      {"r":6,"c":150,"v":1},{"r":6,"c":151,"v":1},{"r":6,"c":152,"v":1},{"r":6,"c":153,"v":1},{"r":6,"c":154,"v":1},{"r":6,"c":155,"v":1},{"r":6,"c":156,"v":1},{"r":6,"c":157,"v":1},{"r":6,"c":158,"v":1},{"r":6,"c":159,"v":1},

      {"r":7,"c":0,"v":0},{"r":7,"c":1,"v":0},{"r":7,"c":2,"v":0},{"r":7,"c":3,"v":0},{"r":7,"c":4,"v":1},{"r":7,"c":5,"v":0},{"r":7,"c":6,"v":0},{"r":7,"c":7,"v":0},{"r":7,"c":8,"v":0},{"r":7,"c":9,"v":0},
      {"r":7,"c":10,"v":0},{"r":7,"c":11,"v":0},{"r":7,"c":12,"v":0},{"r":7,"c":13,"v":0},{"r":7,"c":14,"v":0},{"r":7,"c":15,"v":0},{"r":7,"c":16,"v":0},{"r":7,"c":17,"v":0},{"r":7,"c":18,"v":0},{"r":7,"c":19,"v":0},
      {"r":7,"c":20,"v":0},{"r":7,"c":21,"v":0},{"r":7,"c":22,"v":0},{"r":7,"c":23,"v":0},{"r":7,"c":24,"v":0},{"r":7,"c":25,"v":0},{"r":7,"c":26,"v":0},{"r":7,"c":27,"v":1},{"r":7,"c":28,"v":0},{"r":7,"c":29,"v":1},
      {"r":7,"c":30,"v":0},{"r":7,"c":31,"v":1},{"r":7,"c":32,"v":0},{"r":7,"c":33,"v":0},{"r":7,"c":34,"v":0},{"r":7,"c":35,"v":0},{"r":7,"c":36,"v":0},{"r":7,"c":37,"v":0},{"r":7,"c":38,"v":0},{"r":7,"c":39,"v":0},
      {"r":7,"c":40,"v":0},{"r":7,"c":41,"v":0},{"r":7,"c":42,"v":0},{"r":7,"c":43,"v":0},{"r":7,"c":44,"v":0},{"r":7,"c":45,"v":0},{"r":7,"c":46,"v":0},{"r":7,"c":47,"v":0},{"r":7,"c":48,"v":0},{"r":7,"c":49,"v":0},
      {"r":7,"c":50,"v":0},{"r":7,"c":51,"v":0},{"r":7,"c":52,"v":0},{"r":7,"c":53,"v":0},{"r":7,"c":54,"v":0},{"r":7,"c":55,"v":0},{"r":7,"c":56,"v":0},{"r":7,"c":57,"v":0},{"r":7,"c":58,"v":0},{"r":7,"c":59,"v":0},
      {"r":7,"c":60,"v":0},{"r":7,"c":61,"v":0},{"r":7,"c":62,"v":0},{"r":7,"c":63,"v":0},{"r":7,"c":64,"v":0},{"r":7,"c":65,"v":0},{"r":7,"c":66,"v":0.333},{"r":7,"c":67,"v":1},{"r":7,"c":68,"v":1},{"r":7,"c":69,"v":1},
      {"r":7,"c":70,"v":0},{"r":7,"c":71,"v":0},{"r":7,"c":72,"v":0},{"r":7,"c":73,"v":0},{"r":7,"c":74,"v":0},{"r":7,"c":75,"v":0},{"r":7,"c":76,"v":0.333},{"r":7,"c":77,"v":1},{"r":7,"c":78,"v":1},{"r":7,"c":79,"v":1},
      {"r":7,"c":80,"v":0},{"r":7,"c":81,"v":0},{"r":7,"c":82,"v":0},{"r":7,"c":83,"v":0},{"r":7,"c":84,"v":0},{"r":7,"c":85,"v":0},{"r":7,"c":86,"v":0},{"r":7,"c":87,"v":0},{"r":7,"c":88,"v":0},{"r":7,"c":89,"v":0},
      {"r":7,"c":90,"v":0},{"r":7,"c":91,"v":0},{"r":7,"c":92,"v":0},{"r":7,"c":93,"v":0},{"r":7,"c":94,"v":0},{"r":7,"c":95,"v":0},{"r":7,"c":96,"v":0},{"r":7,"c":97,"v":0},{"r":7,"c":98,"v":0},{"r":7,"c":99,"v":0},
      {"r":7,"c":100,"v":0},{"r":7,"c":101,"v":0},{"r":7,"c":102,"v":0},{"r":7,"c":103,"v":0},{"r":7,"c":104,"v":0},{"r":7,"c":105,"v":0},{"r":7,"c":106,"v":0},{"r":7,"c":107,"v":0},{"r":7,"c":108,"v":0},{"r":7,"c":109,"v":0},
      {"r":7,"c":110,"v":0},{"r":7,"c":111,"v":0},{"r":7,"c":112,"v":0},{"r":7,"c":113,"v":0},{"r":7,"c":114,"v":0},{"r":7,"c":115,"v":0},{"r":7,"c":116,"v":0},{"r":7,"c":117,"v":0},{"r":7,"c":118,"v":0},{"r":7,"c":119,"v":0},
      {"r":7,"c":120,"v":0},{"r":7,"c":121,"v":0},{"r":7,"c":122,"v":0},{"r":7,"c":123,"v":0},{"r":7,"c":124,"v":1},{"r":7,"c":125,"v":1},{"r":7,"c":126,"v":1},{"r":7,"c":127,"v":1},{"r":7,"c":128,"v":1},{"r":7,"c":129,"v":1},
      {"r":7,"c":130,"v":0},{"r":7,"c":131,"v":1},{"r":7,"c":132,"v":1},{"r":7,"c":133,"v":0},{"r":7,"c":134,"v":0},{"r":7,"c":135,"v":0},{"r":7,"c":136,"v":0},{"r":7,"c":137,"v":1},{"r":7,"c":138,"v":0},{"r":7,"c":139,"v":1},
      {"r":7,"c":140,"v":0},{"r":7,"c":141,"v":0},{"r":7,"c":142,"v":0},{"r":7,"c":143,"v":0},{"r":7,"c":144,"v":0},{"r":7,"c":145,"v":0},{"r":7,"c":146,"v":0},{"r":7,"c":147,"v":0},{"r":7,"c":148,"v":0},{"r":7,"c":149,"v":0},
      {"r":7,"c":150,"v":0},{"r":7,"c":151,"v":0},{"r":7,"c":152,"v":0},{"r":7,"c":153,"v":0},{"r":7,"c":154,"v":0},{"r":7,"c":155,"v":0},{"r":7,"c":156,"v":0},{"r":7,"c":157,"v":0},{"r":7,"c":158,"v":0},{"r":7,"c":159,"v":0}
    ]
  },
  "layer": [
    {
      "mark": {"type": "rect", "strokeWidth": 1.2},
      "encoding": {
        "x": {
          "field": "c",
          "type": "ordinal",
          "title": null,
          "scale": {"paddingInner": 0, "paddingOuter": 0},
          "axis": {"orient": "bottom", "zindex": 1, "domainWidth": 5, "domainColor": "black", "values": [0, 20, 40, 60, 80, 100, 120, 140], "labelAngle": 0, "labelPadding": 35}
        },
        "y": {
          "field": "r",
          "type": "ordinal",
          "title": null,
          "scale": {"paddingInner": 0, "paddingOuter": 0},
          "axis": {"orient": "left", "zindex": 1, "domainWidth": 5, "domainColor": "black", "labelPadding": 31}
        },
        "color": {
          "field": "v",
          "type": "quantitative",
          "scale": {"domain": [0, 1], "range": ["#008066", "#ffff66"], "interpolate": "rgb"},
          "legend": null
        },
        "stroke": {
          "field": "v",
          "type": "quantitative",
          "scale": {"domain": [0, 1], "range": ["#008066", "#ffff66"], "interpolate": "rgb"},
          "legend": null
        }
      }
    },
    {
      "mark": {"type": "rect", "opacity": 0},
      "encoding": {
        "x": {
          "field": "c",
          "type": "ordinal",
          "title": null,
          "axis": {"orient": "top", "zindex": 1, "domainWidth": 5, "domainColor": "black", "values": [0, 20, 40, 60, 80, 100, 120, 140], "labels": false}
        },
        "y": {
          "field": "r",
          "type": "ordinal",
          "title": null,
          "axis": {"orient": "right", "zindex": 1, "domainWidth": 5, "domainColor": "black", "labels": false}
        }
      }
    }
  ],
  "resolve": {"axis": {"x": "independent", "y": "independent"}},
  "config": {
    "view": {"stroke": null},
    "axis": {
      "grid": false,
      "domain": true,
      "ticks": true,
      "tickSize": -16,
      "tickWidth": 2,
      "tickColor": "black",
      "labelFont": "DejaVu Sans",
      "labelFontSize": 50,
      "labelColor": "black"
    }
  }
}
